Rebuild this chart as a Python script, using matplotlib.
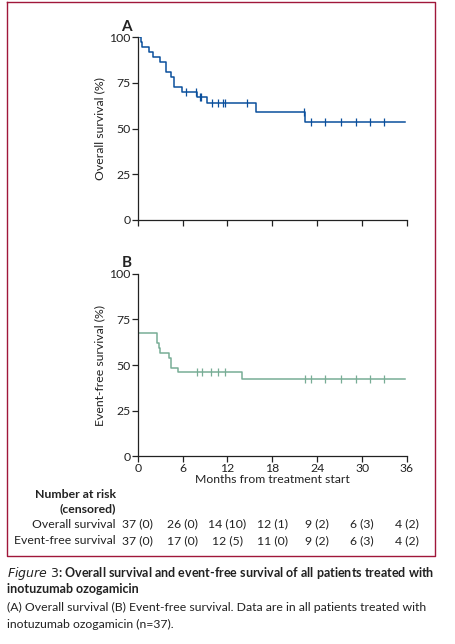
import matplotlib
matplotlib.use("Agg")
import matplotlib.pyplot as plt
import numpy as np
from matplotlib.lines import Line2D

plt.rcParams['font.family'] = ['Lato', 'DejaVu Sans']

os_times = [0, 0.5, 0.6, 1.5, 2.1, 3.0, 3.8, 4.5, 4.8, 5.9, 7.9, 9.2, 15.8, 22.3]
os_surv = [100, 97.3, 94.6, 91.9, 89.2, 86.5, 81.1, 78.4, 73.0, 70.3, 67.5, 64.2, 59.0, 53.6]
os_cens = [6.5, 7.8, 8.3, 8.5, 9.9, 10.8, 11.4, 11.7, 14.6, 22.25, 23.1, 25.1, 27.2, 29.2, 31.1, 32.9]
os_end = 35.7

efs_times = [0, 2.6, 2.8, 3.0, 4.2, 4.5, 5.4, 13.9]
efs_surv = [67.6, 62.2, 59.5, 56.8, 54.1, 48.6, 45.9, 42.2]
efs_cens = [7.9, 8.6, 9.8, 10.8, 11.7, 22.3, 23.1, 25.1, 27.2, 29.2, 31.1, 32.9]
efs_end = 35.7

xticks = [0, 6, 12, 18, 24, 30, 36]
yticks = [0, 25, 50, 75, 100]
risk_os = ["37 (0)", "26 (0)", "14 (10)", "12 (1)", "9 (2)", "6 (3)", "4 (2)"]
risk_efs = ["37 (0)", "17 (0)", "12 (5)", "11 (0)", "9 (2)", "6 (3)", "4 (2)"]

W, H = 456, 644
fig = plt.figure(figsize=(W/100, H/100), dpi=100)

def px(x, y):
    return x / W, 1 - y / H

red = '#a0173a'
tc = '#222222'
fs = 8.8

def km(ax, times, surv, cens, end, color, ylabel, letter, show_x):
    t = list(times) + [end]
    s = list(surv) + [surv[-1]]
    ax.step(t, s, where='post', color=color, lw=1.1)
    cv = [surv[np.searchsorted(times, c, side='right') - 1] for c in cens]
    ax.plot(cens, cv, ls='none', marker='|', ms=6, mew=0.9, color=color)
    ax.set_xlim(0, 36)
    ax.set_ylim(0, 100)
    ax.set_xticks(xticks)
    ax.set_yticks(yticks)
    for sp in ['top', 'right']:
        ax.spines[sp].set_visible(False)
    for sp in ['left', 'bottom']:
        ax.spines[sp].set_linewidth(0.9)
        ax.spines[sp].set_color(tc)
    ax.tick_params(direction='out', length=4, width=0.9, labelsize=fs, colors=tc, pad=1)
    if not show_x:
        ax.set_xticklabels([])
    else:
        ax.set_xlabel("Months from treatment start", fontsize=fs, color=tc, labelpad=0)
    ax.set_ylabel(ylabel, fontsize=fs, color=tc, labelpad=3)
    ax.text(-0.06, 1.02, letter, transform=ax.transAxes, fontsize=11, fontweight='bold', color=tc, ha='left', va='bottom')

axA = fig.add_axes([137.7/W, 1 - 220/H, 269.3/W, 182.7/H])
km(axA, os_times, os_surv, os_cens, os_end, '#0a4f9c', "Overall survival (%)", "A", False)
axB = fig.add_axes([137.7/W, 1 - 456.3/H, 269.3/W, 182.6/H])
km(axB, efs_times, efs_surv, efs_cens, efs_end, '#78ad96', "Event-free survival (%)", "B", True)

fig.add_artist(Line2D([px(7,0)[0], px(435,0)[0], px(435,0)[0], px(7,0)[0], px(7,0)[0]],
                      [px(0,1.5)[1], px(0,1.5)[1], px(0,556)[1], px(0,556)[1], px(0,1.5)[1]],
                      color=red, lw=1.0, transform=fig.transFigure))

fig.text(*px(116, 494), "Number at risk", ha='right', va='center', fontsize=fs, fontweight='bold', color=tc)
fig.text(*px(116, 509), "(censored)", ha='right', va='center', fontsize=fs, fontweight='bold', color=tc)
fig.text(*px(116, 524), "Overall survival", ha='right', va='center', fontsize=fs, color=tc)
fig.text(*px(116, 541), "Event-free survival", ha='right', va='center', fontsize=fs, color=tc)
for i, x in enumerate(xticks):
    xp = 137.7 + x / 36 * 269.3
    fig.text(*px(xp, 524), risk_os[i], ha='center', va='center', fontsize=fs, color=tc)
    fig.text(*px(xp, 541), risk_efs[i], ha='center', va='center', fontsize=fs, color=tc)

fig.text(*px(7, 573), r"$\it{Figure\ 3}$: Overall survival and event-free survival of all patients treated with",
         ha='left', va='center', fontsize=9, fontweight='bold', color=tc)
fig.text(*px(7, 589), "inotuzumab ozogamicin", ha='left', va='center', fontsize=9, fontweight='bold', color=tc)
fig.text(*px(7, 607), "(A) Overall survival (B) Event-free survival. Data are in all patients treated with",
         ha='left', va='center', fontsize=fs, color=tc)
fig.text(*px(7, 624), "inotuzumab ozogamicin (n=37).", ha='left', va='center', fontsize=fs, color=tc)

fig.savefig("out.png", dpi=100)
